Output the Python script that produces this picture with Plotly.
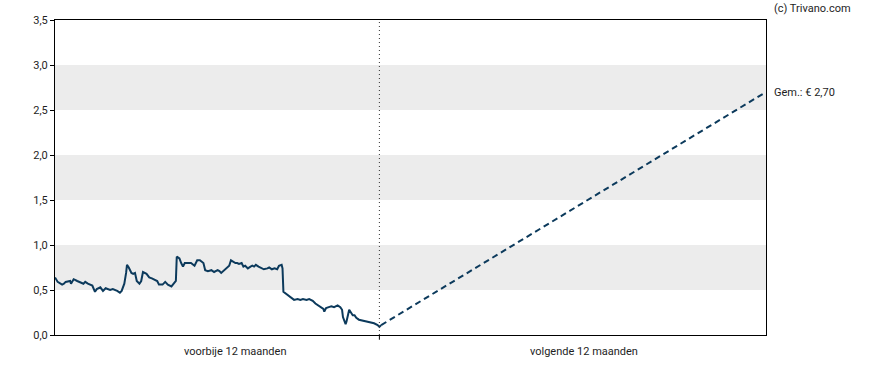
import plotly.graph_objects as go

# Past 12 months: day offset (0 = today) and price
past_days = [-365, -362, -357, -355, -353, -348, -347, -344, -340, -337, -333, -331, -328, -323,
             -320, -318, -314, -311, -308, -303, -300, -295, -292, -290, -287, -285, -284, -282,
             -279, -277, -275, -273, -270, -268, -266, -262, -259, -256, -252, -250, -248, -244,
             -241, -238, -234, -231, -229, -228, -225, -223, -221, -219, -215, -212, -208, -205,
             -202, -198, -196, -193, -189, -186, -182, -180, -178, -175, -171, -169, -167, -164,
             -162, -160, -158, -155, -153, -151, -148, -145, -143, -141, -139, -136, -133, -130,
             -126, -124, -121, -118, -115, -113, -110, -109, -108, -104, -100, -96, -92, -89,
             -86, -82, -79, -75, -72, -69, -65, -63, -62, -60, -57, -54, -51, -47, -44, -42,
             -41, -38, -37, -35, -34, -32, -30, -28, -26, -23, -19, -16, -12, -9, -6, -2, 0, 2]
past_values = [0.64, 0.59, 0.56, 0.57, 0.59, 0.60, 0.57, 0.62, 0.60, 0.59, 0.57, 0.59, 0.57, 0.55,
               0.48, 0.51, 0.53, 0.49, 0.52, 0.50, 0.51, 0.49, 0.47, 0.49, 0.57, 0.69, 0.78, 0.75,
               0.69, 0.68, 0.69, 0.60, 0.57, 0.60, 0.70, 0.68, 0.64, 0.63, 0.61, 0.60, 0.56, 0.56,
               0.59, 0.56, 0.54, 0.57, 0.60, 0.87, 0.85, 0.80, 0.76, 0.80, 0.80, 0.80, 0.77, 0.83,
               0.83, 0.80, 0.72, 0.71, 0.72, 0.70, 0.72, 0.71, 0.69, 0.72, 0.75, 0.77, 0.83, 0.81,
               0.80, 0.80, 0.79, 0.80, 0.76, 0.77, 0.74, 0.76, 0.77, 0.76, 0.78, 0.76, 0.74, 0.73,
               0.74, 0.75, 0.73, 0.74, 0.73, 0.77, 0.78, 0.74, 0.48, 0.45, 0.42, 0.39, 0.40, 0.39,
               0.40, 0.39, 0.40, 0.38, 0.35, 0.33, 0.30, 0.29, 0.26, 0.30, 0.31, 0.32, 0.31, 0.33,
               0.31, 0.28, 0.20, 0.12, 0.15, 0.24, 0.28, 0.25, 0.22, 0.22, 0.19, 0.17, 0.16, 0.16,
               0.15, 0.14, 0.13, 0.11, 0.09, 0.11]

# Forecast (average target)
forecast_days = [2, 435]
forecast_values = [0.11, 2.70]
target_label = "Gem.: € 2,70"

period_labels = ["voorbije 12 maanden", "volgende 12 maanden"]
period_label_days = [-162, 230]

y_ticks = [0, 0.5, 1.0, 1.5, 2.0, 2.5, 3.0, 3.5]
bands = [(0.5, 1.0), (1.5, 2.0), (2.5, 3.0)]

LINE = "#0c3a5c"
FONT = "Roboto"
TXT = "#1e1e1e"

fig = go.Figure()
fig.add_trace(go.Scatter(x=past_days, y=past_values, mode="lines",
                         line=dict(color=LINE, width=2), hoverinfo="skip"))
fig.add_trace(go.Scatter(x=forecast_days, y=forecast_values, mode="lines",
                         line=dict(color=LINE, width=2, dash="6px,4px"), hoverinfo="skip"))

shapes = []
for lo, hi in bands:
    shapes.append(dict(type="rect", xref="paper", yref="y", x0=0, x1=1, y0=lo, y1=hi,
                       fillcolor="#ececec", line=dict(width=0), layer="below"))
shapes.append(dict(type="line", xref="x", yref="paper", x0=0, x1=0, y0=0, y1=1,
                   line=dict(color="#333333", width=1, dash="1px,3px"), layer="above"))
shapes.append(dict(type="line", xref="x", yref="paper", x0=0, x1=0, y0=0, y1=-0.015,
                   line=dict(color="#000000", width=1)))

annotations = [
    dict(x=d, y=-0.025, xref="x", yref="paper", text=t, showarrow=False,
         yanchor="top", font=dict(family=FONT, size=11, color=TXT))
    for d, t in zip(period_label_days, period_labels)
]
annotations.append(dict(x=1.0, y=forecast_values[-1], xref="paper", yref="y", xshift=6,
                        text=target_label, showarrow=False, xanchor="left", yanchor="middle",
                        font=dict(family=FONT, size=11, color=TXT)))
annotations.append(dict(x=1.0, y=1.0, xref="paper", yref="paper", xshift=6, yshift=3,
                        text="(c) Trivano.com", showarrow=False, xanchor="left", yanchor="bottom",
                        font=dict(family=FONT, size=11, color=TXT)))

fig.update_layout(
    width=888, height=370,
    margin=dict(l=55, r=122, t=20, b=35, autoexpand=False),
    plot_bgcolor="white", paper_bgcolor="white",
    separators=",.",
    showlegend=False,
    hovermode=False,
    shapes=shapes,
    annotations=annotations,
    font=dict(family=FONT, size=11, color=TXT),
    xaxis=dict(range=[-365, 435], showgrid=False, zeroline=False, showticklabels=False,
               automargin=False,
               ticks="", showline=True, linecolor="black", linewidth=1, mirror=True),
    yaxis=dict(range=[0, 3.5], tickvals=y_ticks, tickformat=".1f", showgrid=False,
               automargin=False,
               zeroline=False, showline=True, linecolor="black", linewidth=1, mirror=True,
               ticks="outside", ticklen=4, tickcolor="black",
               tickfont=dict(family=FONT, size=11, color=TXT)),
)

# remove the default page margin so the 888x370 figure fills the window exactly
fig.write_html("out.html",
               config={"displayModeBar": False, "staticPlot": True},
               post_script="document.body.style.margin='0';document.body.style.overflow='hidden';")
